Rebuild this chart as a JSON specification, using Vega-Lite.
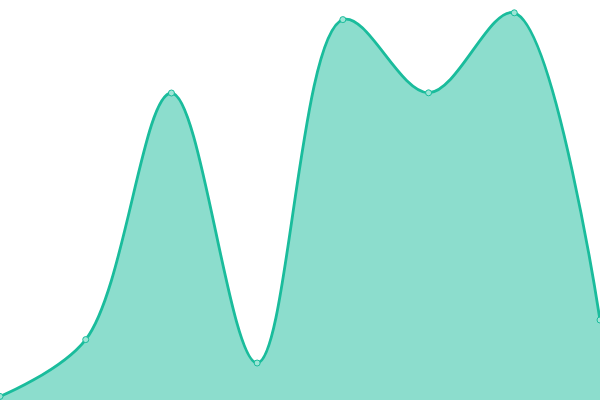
{
  "$schema": "https://vega.github.io/schema/vega-lite/v6.json",
  "width": 600,
  "height": 400,
  "padding": 0,
  "autosize": {"type": "fit", "contains": "padding"},
  "config": {"view": {"stroke": null}},
  "data": {"values": [
    {"i": 0, "v": 0.9},
    {"i": 1, "v": 15.1},
    {"i": 2, "v": 76.75},
    {"i": 3, "v": 9.25},
    {"i": 4, "v": 95.1},
    {"i": 5, "v": 76.8},
    {"i": 6, "v": 96.8},
    {"i": 7, "v": 20}
  ]},
  "encoding": {
    "x": {"field": "i", "type": "quantitative", "scale": {"domain": [0, 7], "nice": false, "zero": false}, "axis": null},
    "y": {"field": "v", "type": "quantitative", "scale": {"domain": [0, 100], "nice": false}, "axis": null}
  },
  "layer": [
    {"mark": {"type": "area", "interpolate": "catmull-rom", "color": "#1abc9c", "fillOpacity": 0.5, "line": false, "clip": true}},
    {"mark": {"type": "line", "interpolate": "catmull-rom", "color": "#1abc9c", "strokeWidth": 2.8, "clip": true}},
    {"mark": {"type": "point", "filled": true, "fill": "#9ee5d6", "stroke": "#1abc9c", "strokeWidth": 1, "size": 36, "opacity": 1, "clip": true}}
  ]
}
